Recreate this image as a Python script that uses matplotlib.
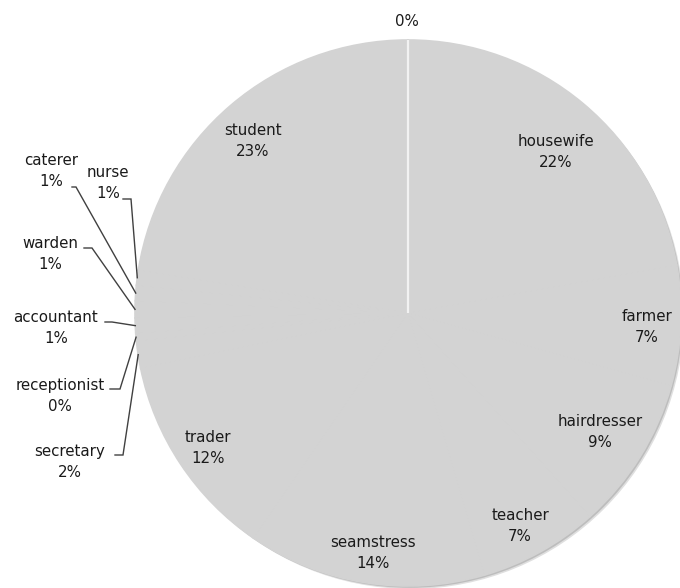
import matplotlib
matplotlib.use('Agg')
import matplotlib.pyplot as plt
import numpy as np
from matplotlib.patches import Circle

# ---------------- data ----------------
categories = ['', 'housewife', 'farmer', 'hairdresser', 'teacher', 'seamstress',
              'trader', 'secretary', 'receptionist', 'accountant', 'warden',
              'caterer', 'nurse', 'student']
values = [0, 22.2, 7.1, 9.1, 7.1, 14.1, 12.2, 1.6, 0.45, 0.9, 1.0, 0.9, 0.9, 22.5]
pct_labels = ['0%', '22%', '7%', '9%', '7%', '14%', '12%', '2%', '0%', '1%',
              '1%', '1%', '1%', '23%']

# ---------------- layout (pixels) ----------------
W, H = 680, 588
CX, CY, R = 408, 313, 273

def px(x, y):
    return (x - CX) / R, (CY - y) / R

label_px = {
    '': (407, 22), 'housewife': (556, 152), 'farmer': (647, 327),
    'hairdresser': (600, 432), 'teacher': (520, 526), 'seamstress': (373, 553),
    'trader': (208, 448), 'secretary': (70, 462), 'receptionist': (60, 396),
    'accountant': (56, 328), 'warden': (50, 254), 'caterer': (51, 171),
    'nurse': (108, 183), 'student': (253, 141),
}
# leader line start x, elbow x, y (pixels)
leader_px = {
    'secretary': (115, 123, 455), 'receptionist': (110, 120, 389),
    'accountant': (105, 112, 322), 'warden': (84, 92, 248),
    'caterer': (72, 76, 187), 'nurse': (123, 131, 199),
}

fig = plt.figure(figsize=(W / 100, H / 100), dpi=100)
ax = fig.add_axes([0, 0, 1, 1])

# soft shadow
for off, a in [(3.0, 0.25), (1.8, 0.35)]:
    ax.add_patch(Circle((off / R, -off / R), 1.0, facecolor='#808080',
                        edgecolor='none', alpha=a, zorder=0))

PIE = '#d3d3d3'
wedges, _ = ax.pie(values, startangle=90, counterclock=False, radius=1.0,
                   colors=[PIE] * len(values),
                   wedgeprops=dict(linewidth=1.2, edgecolor=PIE))
for w in wedges:
    w.set_zorder(1)
wedges[0].set_edgecolor('#f2f2f2')
wedges[0].set_linewidth(1.6)
wedges[0].set_zorder(2)

ax.set_xlim((0 - CX) / R, (W - CX) / R)
ax.set_ylim((CY - H) / R, CY / R)
ax.set_aspect('equal')
ax.axis('off')

txt_kw = dict(ha='center', va='center', fontsize=10.8, color='#1a1a1a',
              family='DejaVu Sans', linespacing=1.5, zorder=5)

for i, cat in enumerate(categories):
    lx, ly = px(*label_px[cat])
    s = pct_labels[i] if cat == '' else f'{cat}\n{pct_labels[i]}'
    ax.text(lx, ly, s, **txt_kw)
    if cat in leader_px:
        w = wedges[i]
        mid = np.deg2rad((w.theta1 + w.theta2) / 2)
        ex, ey = np.cos(mid), np.sin(mid)
        sx, bx, y = leader_px[cat]
        x0, y0 = px(sx, y)
        x1, _ = px(bx, y)
        ax.plot([x0, x1, ex], [y0, y0, ey], color='#404040', lw=1.0,
                zorder=4, solid_joinstyle='miter')

fig.savefig('out.png', dpi=100)
